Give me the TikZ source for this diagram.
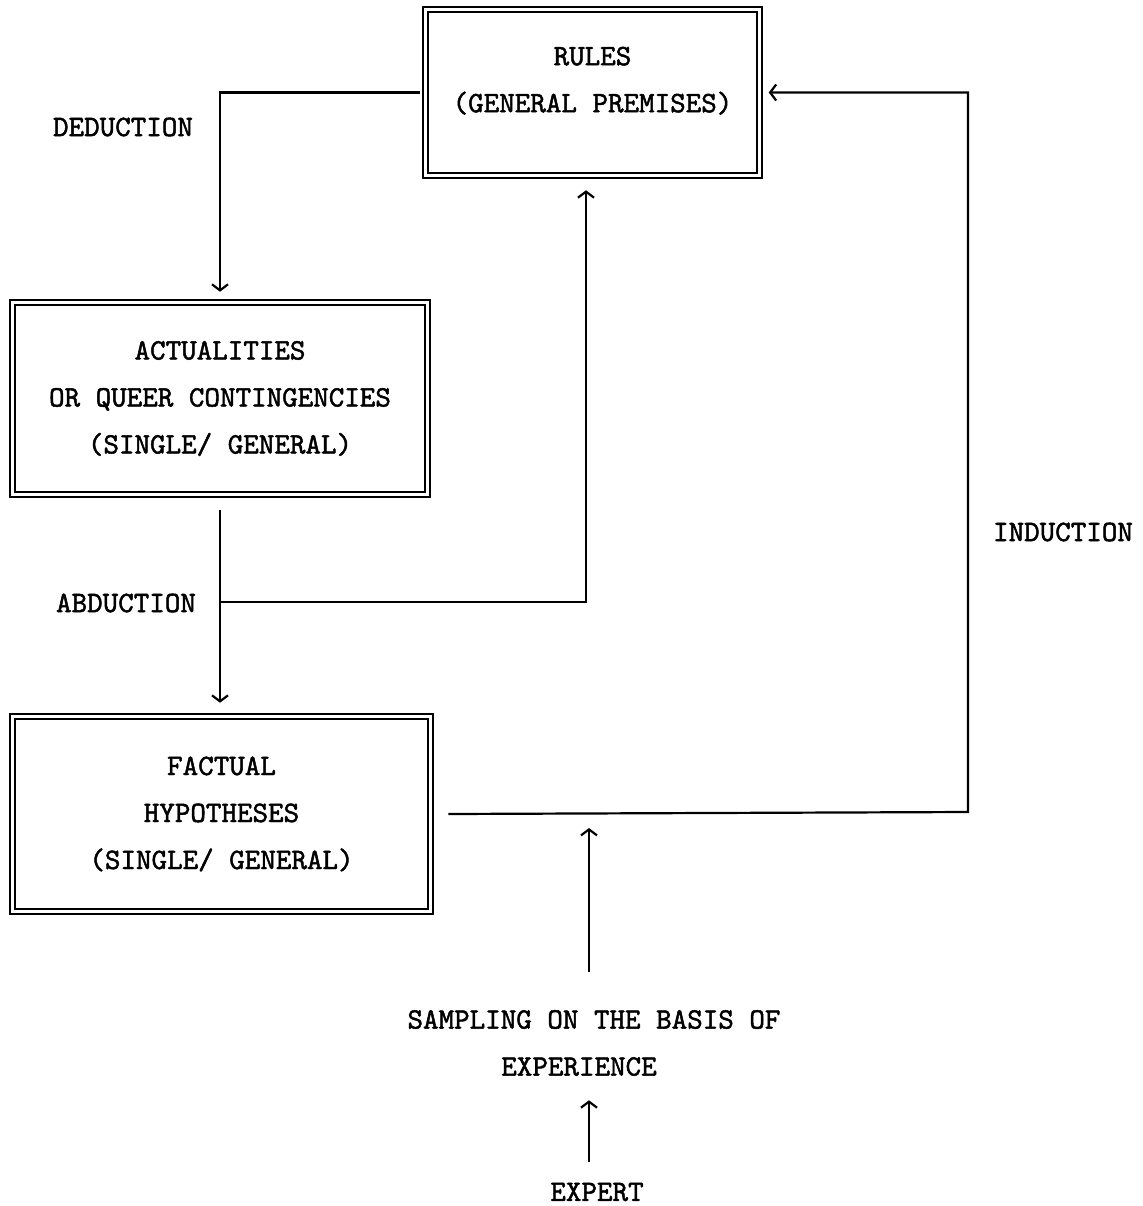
\documentclass[tikz,border=0pt]{standalone}
\usepackage{fontspec}
\newfontfamily\typefont[FakeBold=1.6]{lmmono10-regular.otf}
\usetikzlibrary{arrows,arrows.meta,positioning}

\tikzset{
  box/.style={draw, double, double distance=1.7pt, line width=0.8pt,
    align=center, inner sep=0pt},
  flow/.style={-{Straight Barb[length=3pt,width=8pt]}, line width=1.1pt},
  lbl/.style={inner sep=0pt, align=center}
}

\begin{document}
\begin{tikzpicture}[x=0.5pt, y=-0.5pt,
    every node/.append style={font=\typefont\fontsize{14.8}{23.5}\selectfont}]
    \useasboundingbox (0,0) rectangle (1143,1206);

    % boxes
    \node[box, minimum width=167pt, minimum height=83pt]   (rules)  at (592.5,92.5)
        {RULES\\(GENERAL PREMISES)\rule[-13pt]{0pt}{13pt}};
    \node[box, minimum width=207.5pt, minimum height=96pt] (actual) at (220,398.5)
        {ACTUALITIES\\OR QUEER CONTINGENCIES\\(SINGLE/ GENERAL)};
    \node[box, minimum width=209pt, minimum height=97.5pt] (fact)   at (221.5,814)
        {FACTUAL\\HYPOTHESES\\(SINGLE/ GENERAL)};

    % labels
    \node[lbl] (deduction) at (123,127)  {DEDUCTION};
    \node[lbl] (abduction) at (126,603)  {ABDUCTION};
    \node[lbl] (induction) at (1063,532) {INDUCTION};
    \node[lbl] (sampling)  at (594,1043) {SAMPLING ON THE BASIS OF\\EXPERIENCE\hspace*{15pt}};
    \node[lbl] (expert)    at (597,1192) {EXPERT};

    \coordinate (abd)   at (220,602);
    \coordinate (joint) at (589,828);
    \coordinate (turn)  at (968,812);

    \draw[flow] ([xshift=-2.5pt]rules.west) -| ([yshift=5pt]actual.north);
    \draw[flow, shorten <=7.5pt, shorten >=6.5pt] (actual.south) -- (actual.south |- fact.north);
    \draw[flow] (abd) -| ([xshift=-3.25pt, yshift=-7pt]rules.south);
    \draw[flow] ([xshift=8.5pt]fact.east) -- (turn) |- ([xshift=4.25pt]rules.east);
    \draw[flow, shorten <=19pt] (joint |- sampling.north) -- (joint);
    \draw[flow, shorten <=10pt, shorten >=12pt] (joint |- expert.north) -- (joint |- sampling.south);
\end{tikzpicture}
\end{document}
